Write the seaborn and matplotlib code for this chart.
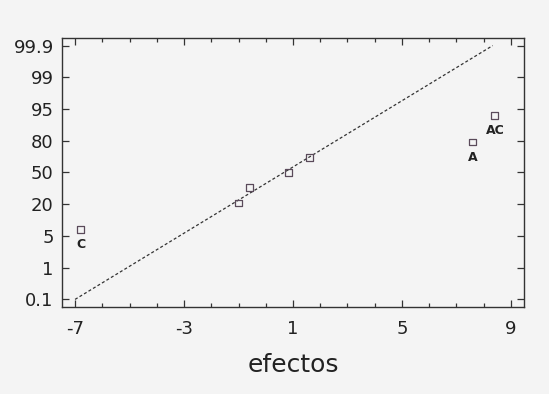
import numpy as np
import pandas as pd
import matplotlib
matplotlib.use("Agg")
import matplotlib.pyplot as plt
import seaborn as sns

# Estimated effects and their normal-probability percentages
efectos = [-6.8, -1.0, -0.6, 0.83, 1.6, 7.58, 8.4]
porcentaje = [8, 21, 36, 50, 64, 79, 92]
etiquetas = ["C", "", "", "", "", "A", "AC"]

# Reference line through the on-line effects
linea_x = [-7.0, 8.33]
linea_pct = [0.1, 99.9]

# Probability axis labels and x ticks
pct_ticks = [0.1, 1, 5, 20, 50, 80, 95, 99, 99.9]
pct_labels = ["0.1", "1", "5", "20", "50", "80", "95", "99", "99.9"]
x_ticks = [-7, -3, 1, 5, 9]

# Probability scale: tick percentages evenly spaced
anchor_pct = [0.01] + pct_ticks + [99.99]
anchor_pos = list(range(-1, len(pct_ticks) + 1))


def fwd(p):
    return np.interp(p, anchor_pct, anchor_pos)


def inv(v):
    return np.interp(v, anchor_pos, anchor_pct)


sns.set_theme(style="ticks")
plt.rcParams["font.family"] = ["DejaVu Sans"]
plt.rcParams["axes.unicode_minus"] = False

bg = "#f4f4f4"
fig = plt.figure(figsize=(5.49, 3.94), dpi=100, facecolor=bg)
ax = fig.add_axes([0.1129, 0.2208, 0.9545 - 0.1129, 0.9036 - 0.2208])
ax.set_facecolor(bg)
ax.set_yscale("function", functions=(fwd, inv))

pts = pd.DataFrame({"efectos": efectos, "pct": porcentaje})
lin = pd.DataFrame({"x": linea_x, "y": linea_pct})

sns.lineplot(data=lin, x="x", y="y", ax=ax, color="#333333",
             linestyle=(0, (2.4, 1.8)), linewidth=0.9, sort=False)
sns.scatterplot(data=pts, x="efectos", y="pct", ax=ax, marker="s", s=22,
                facecolor="none", edgecolor="#5a4a5a", linewidth=0.9, zorder=3)

for x, p, t in zip(efectos, porcentaje, etiquetas):
    if t:
        ax.annotate(t, (x, p), xytext=(0.5, -11), textcoords="offset points",
                    ha="center", va="center", fontsize=9, fontweight="bold",
                    color="#222222")

ax.set_xlim(-7.48, 9.48)
ax.set_ylim(inv(-0.24), inv(8.24))
ax.set_xticks(x_ticks)
ax.set_xticks(np.arange(-7, 10, 1), minor=True)
ax.set_yticks(pct_ticks)
ax.set_yticklabels(pct_labels)
ax.yaxis.set_minor_locator(matplotlib.ticker.NullLocator())

ax.tick_params(which="both", direction="in", top=True, right=True,
               color="#333333", width=0.9)
ax.tick_params(which="major", length=5)
ax.tick_params(which="minor", length=3)
ax.tick_params(axis="x", which="major", labelsize=13, pad=9, labelcolor="#222222")
ax.tick_params(axis="y", which="major", labelsize=13, pad=6, labelcolor="#222222")

for s in ax.spines.values():
    s.set_color("#333333")
    s.set_linewidth(1.0)

ax.set_xlabel("efectos", fontsize=18, color="#222222", labelpad=11)
ax.set_ylabel("")

fig.savefig("out.png", dpi=100, facecolor=bg)
